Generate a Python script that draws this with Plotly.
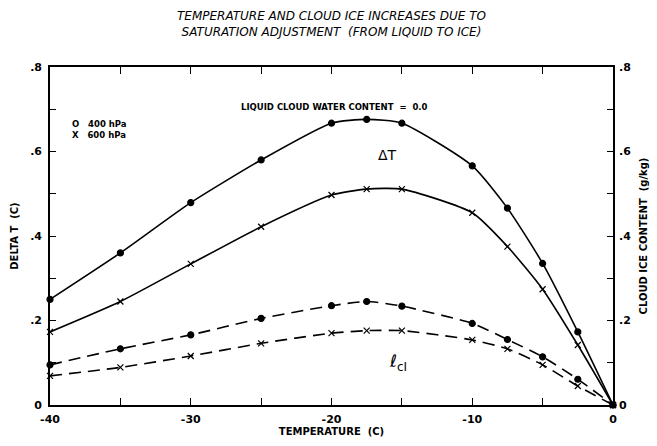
import plotly.graph_objects as go

temps = [-40, -35, -30, -25, -20, -17.5, -15, -10, -7.5, -5, -2.5, 0]
dT_400 = [0.250, 0.360, 0.479, 0.580, 0.667, 0.676, 0.667, 0.566, 0.466, 0.335, 0.173, 0.0]
dT_600 = [0.173, 0.245, 0.334, 0.422, 0.497, 0.511, 0.511, 0.455, 0.375, 0.274, 0.142, 0.0]
qci_400 = [0.095, 0.133, 0.166, 0.205, 0.235, 0.245, 0.234, 0.193, 0.155, 0.114, 0.061, 0.0]
qci_600 = [0.069, 0.089, 0.116, 0.146, 0.170, 0.176, 0.176, 0.154, 0.133, 0.095, 0.045, 0.0]

y_ticks = [0, 0.2, 0.4, 0.6, 0.8]
y_ticktext = ["0", ".2", ".4", ".6", ".8"]
x_ticks = [-40, -30, -20, -10, 0]
x_ticktext = ["-40", "-30", "-20", "-10", "0"]

FONT = "DejaVu Sans"
PLOT_H = 446 - 67 - 41
fig = go.Figure()

def add(y, sym, dash, size, yaxis="y"):
    fig.add_trace(go.Scatter(
        x=temps, y=y, mode="lines+markers", yaxis=yaxis,
        line=dict(color="black", width=1.6, dash=dash, shape="spline", smoothing=0.6),
        marker=dict(symbol=sym, size=size, color="black",
                    line=dict(color="black", width=1.2)),
        showlegend=False, cliponaxis=False))

add(dT_400, "circle", "solid", 6)
add(dT_600, "x-thin", "solid", 6)
add(qci_400, "circle", "12px,7px", 6, "y2")
add(qci_600, "x-thin", "12px,7px", 6, "y2")

axis_common = dict(showline=True, linecolor="black", linewidth=1.6,
                   showgrid=False, zeroline=False, ticks="inside", automargin=False,
                   tickcolor="black", tickwidth=1.4,
                   tickfont=dict(family=FONT, size=11, color="black", weight="bold"))

fig.update_layout(
    width=657, height=446,
    margin=dict(l=50, r=44, t=67, b=41),
    paper_bgcolor="white", plot_bgcolor="white",
    xaxis=dict(range=[-40, 0], tickvals=x_ticks, ticktext=x_ticktext, mirror="ticks",
               ticklen=7, ticklabelstandoff=3,
               minor=dict(ticks="inside", tickvals=[-35, -25, -15, -5], ticklen=7,
                          tickcolor="black", tickwidth=1.4),
               title=dict(text="TEMPERATURE  (C)", standoff=1,
                          font=dict(family=FONT, size=10, color="black", weight="bold")),
               **axis_common),
    yaxis=dict(range=[0, 0.8], tickvals=y_ticks, ticktext=y_ticktext, ticklen=6,
               ticklabelstandoff=4,
               minor=dict(ticks="inside", tickvals=[0.1, 0.3, 0.5, 0.7], ticklen=6,
                          tickcolor="black", tickwidth=1.4),
               title=dict(text="DELTA T  (C)", standoff=10,
                          font=dict(family=FONT, size=10, color="black", weight="bold")),
               **axis_common),
    yaxis2=dict(range=[0, 0.8], overlaying="y", side="right", tickvals=y_ticks,
                ticktext=y_ticktext, ticklen=6, ticklabelstandoff=2,
                minor=dict(ticks="inside", tickvals=[0.1, 0.3, 0.5, 0.7], ticklen=6,
                           tickcolor="black", tickwidth=1.4),
                title=dict(text="CLOUD ICE CONTENT  (g/kg)", standoff=10,
                           font=dict(family=FONT, size=10, color="black", weight="bold")),
                **axis_common),
)

fig.add_annotation(x=0.5, y=1 + 43.5 / PLOT_H, xref="paper", yref="paper", showarrow=False,
                   yanchor="middle",
                   text="<i>TEMPERATURE AND CLOUD ICE INCREASES DUE TO<br>SATURATION ADJUSTMENT  (FROM LIQUID TO ICE)</i>",
                   font=dict(family=FONT, size=12, color="black"))
fig.add_annotation(x=-19.8, y=0.705, xref="x", yref="y", showarrow=False,
                   text="LIQUID CLOUD WATER CONTENT  =  0.0",
                   font=dict(family=FONT, size=8.5, color="black", weight="bold"))
fig.add_annotation(x=0.035, y=0.652, xref="paper", yref="y", showarrow=False, xanchor="left",
                   text="O   400 hPa<br>X   600 hPa", align="left",
                   font=dict(family=FONT, size=8.5, color="black", weight="bold"))
fig.add_annotation(x=-16.0, y=0.592, xref="x", yref="y", showarrow=False,
                   text="ΔT", font=dict(family=FONT, size=14, color="black"))
fig.add_annotation(x=-15.3, y=0.10, xref="x", yref="y", showarrow=False,
                   text="ℓ<sub>cI</sub>", font=dict(family=FONT, size=17, color="black"))

fig.write_html("out.html", config={"displayModeBar": False},
               post_script="document.body.style.margin='0';")
